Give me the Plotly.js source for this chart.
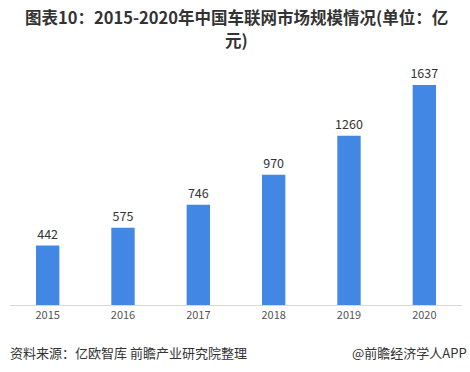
<!DOCTYPE html>
<html><head><meta charset="utf-8">
<script src="https://cdn.plot.ly/plotly-3.0.1.min.js"></script>
<style>html,body{margin:0;padding:0;background:#fff;}#c{width:470px;height:372px;}</style>
</head><body><div id="c"></div>
<script>
var years = ['2015','2016','2017','2018','2019','2020'];
var values = [442, 575, 746, 970, 1260, 1637];
var labels = ['442','575','746','970','1260','1637'];
var titleLines = ['图表10：2015-2020年中国车联网市场规模情况(单位：亿', '元)'];

var font = '"Noto Sans CJK SC", "Microsoft YaHei", sans-serif';
Plotly.newPlot('c', [{
  type: 'bar', x: years, y: values, text: labels,
  textposition: 'outside', cliponaxis: false, constraintext: 'none',
  textfont: {family: font, size: 12.5, color: '#333'},
  marker: {color: '#4287E3'}, width: 0.31, hoverinfo: 'none'
}], {
  width: 470, height: 372,
  margin: {l: 10, r: 8, t: 60, b: 67},
  paper_bgcolor: '#fff', plot_bgcolor: '#fff',
  xaxis: {type: 'category', showgrid: false, showline: true, linecolor: '#d9d9d9', linewidth: 1,
    ticks: '', tickfont: {family: font, size: 11, color: '#555'}},
  yaxis: {range: [0, 1823], visible: false, showgrid: false, zeroline: false},
  showlegend: false,
  annotations: [
    {text: '<b>' + titleLines[0] + '</b>', xref: 'paper', yref: 'paper', x: 0.5, y: 1, yshift: 43,
     xanchor: 'center', yanchor: 'middle', showarrow: false, font: {family: font, size: 16.5, color: '#333'}},
    {text: '<b>' + titleLines[1] + '</b>', xref: 'paper', yref: 'paper', x: 0.5, y: 1, yshift: 20,
     xanchor: 'center', yanchor: 'middle', showarrow: false, font: {family: font, size: 16.5, color: '#333'}},
    {text: '资料来源：亿欧智库 前瞻产业研究院整理', xref: 'paper', yref: 'paper', x: -0.005, y: 0, yshift: -47,
     xanchor: 'left', yanchor: 'middle', showarrow: false, font: {family: font, size: 13, color: '#333'}},
    {text: '@前瞻经济学人APP', xref: 'paper', yref: 'paper', x: 1.015, y: 0, yshift: -47,
     xanchor: 'right', yanchor: 'middle', showarrow: false, font: {family: font, size: 13, color: '#333'}}
  ]
}, {displayModeBar: false, staticPlot: true});
</script></body></html>
